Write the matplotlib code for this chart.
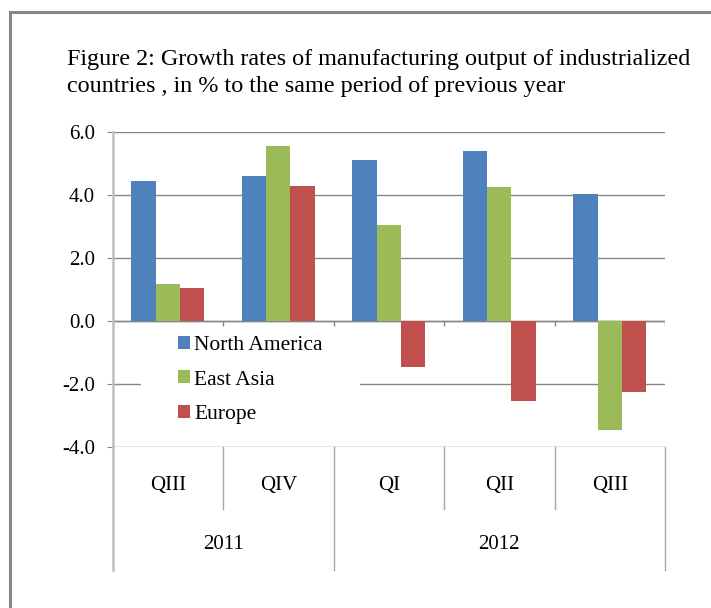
import matplotlib
matplotlib.use('Agg')
import matplotlib.pyplot as plt
from matplotlib.patches import Patch, Rectangle
import numpy as np

# data
quarters = ['QIII', 'QIV', 'QI', 'QII', 'QIII']
years = ['2011', '2012']
year_sizes = [2, 3]  # number of quarters under each year
series = ['North America', 'East Asia', 'Europe']
north_america = [4.45, 4.60, 5.10, 5.40, 4.02]
east_asia = [1.17, 5.55, 3.05, 4.25, -3.45]
europe = [1.06, 4.30, -1.46, -2.55, -2.24]
yticks = [-4, -2, 0, 2, 4, 6]

COLORS = ['#4F81BD', '#9BBB59', '#C0504D']
GRID, LIGHT, INK = '#868686', '#BFBFBF', '#000000'
FONT = 'Liberation Serif'
plt.rcParams.update({'font.family': FONT, 'text.color': INK})

W, H = 711, 608
fig = plt.figure(figsize=(W / 100, H / 100), dpi=100)
fx = lambda px: px / W
fy = lambda py: 1 - py / H

ax = fig.add_axes([fx(112.6), fy(447), fx(665) - fx(112.6), fy(132) - fy(447)])
x = np.arange(len(quarters))
bw = 0.22
for i, (vals, name) in enumerate(zip([north_america, east_asia, europe], series)):
    ax.bar(x + (i - 1) * bw, vals, bw, color=COLORS[i], linewidth=0, zorder=2, label=name)

ax.set_xlim(-0.5, len(quarters) - 0.5)
ax.set_ylim(min(yticks), max(yticks))
ax.set_yticks(yticks)
ax.set_yticklabels([f'{v:.1f}' for v in yticks], fontsize=15)
ax.tick_params(axis='y', length=4.3, color=GRID, pad=8.4)
ax.set_xticks([])
for s in ax.spines.values():
    s.set_visible(False)
ax.grid(axis='y', color=GRID, linewidth=1, zorder=0.5)
ax.set_axisbelow(True)
ax.axhline(0, color=GRID, linewidth=1, zorder=1)

# small tick marks on the zero line at category boundaries
bounds = np.arange(len(quarters) + 1) - 0.5
ax.vlines(bounds, 0, -0.15, color=GRID, linewidth=1, zorder=1)

# multi-level category axis below the plot
xt = ax.get_xaxis_transform()
ends = np.cumsum(year_sizes)
outer = [-0.5] + [e - 0.5 for e in ends]
inner = [b for b in bounds if b not in outer]
ax.plot([-0.5, -0.5], [1, -0.39], transform=xt, color=LIGHT, lw=1.8, clip_on=False)
for b in outer[1:]:
    ax.plot([b, b], [0, -0.39], transform=xt, color='#A6A6A6', lw=1, clip_on=False)
for b in inner:
    ax.plot([b, b], [0, -0.197], transform=xt, color='#A6A6A6', lw=1, clip_on=False)
for xi, q in zip(x, quarters):
    ax.text(xi, -0.121, q, transform=xt, ha='center', va='center', fontsize=15)
starts = [0] + list(ends[:-1])
for y, s, e in zip(years, starts, ends):
    ax.text((s + e - 1) / 2, -0.311, y, transform=xt, ha='center', va='center', fontsize=15)

# legend with a white box hiding the gridline behind it
ax.add_patch(Rectangle((fx(141), fy(428)), fx(360) - fx(141), fy(326) - fy(428),
                       transform=fig.transFigure, facecolor='white', edgecolor='none', zorder=0.8))
handles = [Patch(facecolor=c, edgecolor='none') for c in COLORS]
leg = ax.legend(handles, series, loc='upper left', bbox_to_anchor=(fx(163), fy(321)),
                bbox_transform=fig.transFigure, frameon=False, fontsize=15.5,
                handlelength=0.55, handleheight=0.55, handletextpad=0.2,
                labelspacing=0.71, borderpad=0.2)
leg.set_zorder(5)

# title
fig.text(fx(67), fy(73), 'Figure 2: Growth rates of manufacturing output of industrialized\n'
         'countries , in % to the same period of previous year',
         ha='left', va='center', fontsize=17.4, linespacing=1.39)

# outer chart frame (right and bottom edges run off the image)
fig.patches.append(Rectangle((fx(9.5), -0.1), 1.2, fy(12) + 0.1, transform=fig.transFigure,
                             fill=False, edgecolor=GRID, linewidth=2.2))

fig.savefig('out.png', dpi=100)
